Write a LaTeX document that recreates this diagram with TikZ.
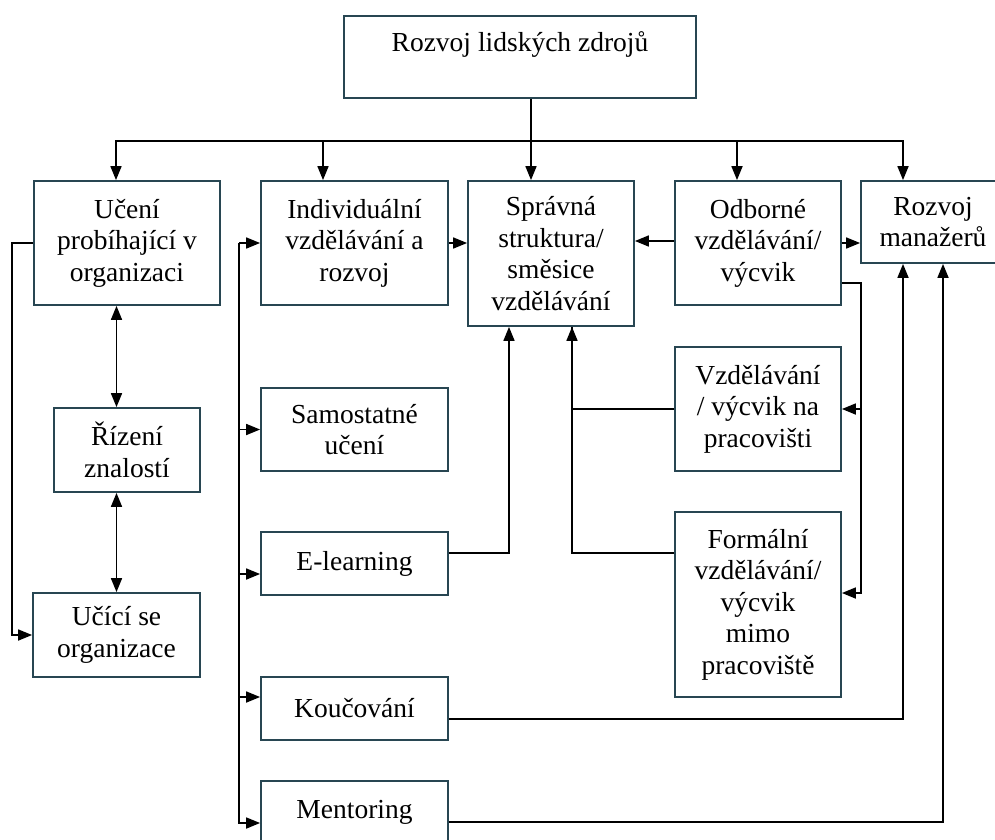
\documentclass[tikz,border=0pt]{standalone}
\usepackage{fontspec}
\setmainfont{Liberation Serif}
\usetikzlibrary{arrows.meta}
\definecolor{ramec}{RGB}{40,70,82}

\begin{document}
\begin{tikzpicture}[x=1pt,y=-1pt]
 \tikzstyle{blok}=[draw=ramec,line width=1.8pt,align=center,inner sep=0pt,
 font=\fontsize{27.5}{31.5}\selectfont]
 \tikzstyle{spoj}=[line width=1.7pt,>={Triangle[length=14pt,width=11pt]}]
\useasboundingbox (0,0) rectangle (995,839);
\clip (0,0) rectangle (995,839);
\node[blok,minimum width=352pt,minimum height=82pt] (rlz) at (520,57) {Rozvoj lidských zdrojů\\\mbox{}};
\node[blok,minimum width=186pt,minimum height=124pt] (uco) at (127,243) {Učení\\probíhající v\\organizaci};
\node[blok,minimum width=187pt,minimum height=124pt] (ivr) at (354.5,243) {Individuální\\vzdělávání a\\rozvoj};
\node[blok,minimum width=166pt,minimum height=145pt] (sss) at (551,253.5) {Správná\\struktura/\\směsice\\vzdělávání};
\node[blok,minimum width=166pt,minimum height=124pt] (ovv) at (758,243) {Odborné\\vzdělávání/\\výcvik};
\node[blok,minimum width=144pt,minimum height=82pt] (rm) at (933,222) {Rozvoj\\manažerů};
\node[blok,minimum width=146pt,minimum height=84pt] (rz) at (127,450) {Řízení\\znalostí};
\node[blok,minimum width=167pt,minimum height=84pt] (uso) at (116.5,635) {Učící se\\organizace};
\node[blok,minimum width=187pt,minimum height=83pt] (su) at (354.5,429.5) {Samostatné\\učení};
\node[blok,minimum width=187pt,minimum height=63pt] (el) at (354.5,563.5) {E-learning};
\node[blok,minimum width=187pt,minimum height=63pt] (kou) at (354.5,708.5) {Koučování};
\node[blok,minimum width=187pt,minimum height=63pt] (men) at (354.5,812.5) {Mentoring};
\node[blok,minimum width=166pt,minimum height=124pt] (vvp) at (758,409) {Vzdělávání\\/ výcvik na\\pracovišti};
\node[blok,minimum width=166pt,minimum height=185pt] (fvm) at (758,604.5) {Formální\\vzdělávání/\\výcvik\\mimo\\pracoviště};
% rozvod shora
\draw[spoj] ([xshift=11pt]rlz.south) -- ++(0,42) coordinate (bus);
\draw[spoj,->] (bus) -| ([xshift=-11pt]uco.north);
\draw[spoj,->] (bus) -| ([xshift=-31.5pt]ivr.north);
\draw[spoj,->] (bus) -- ([xshift=-20pt]sss.north);
\draw[spoj,->] (bus) -| ([xshift=-21pt]ovv.north);
\draw[spoj,->] (bus) -| ([xshift=-30pt]rm.north);
\draw[spoj,->] (ivr.east) -- (ivr.east -| sss.west);
\draw[spoj,->] ([yshift=2pt]ovv.west) -- ([yshift=2pt]ovv.west -| sss.east);
\draw[spoj,->] (ovv.east) -- (ovv.east -| rm.west);
% levy sloupec
\draw[spoj,->] (uco.west) -- ++(-21,0) |- (uso.west);
\draw[spoj,<->] (uso.north |- uco.south) -- (uso.north |- rz.north);
\draw[spoj,<->] (uso.north |- rz.south) -- (uso.north);
% kmen
\draw[spoj,->] (ivr.west) ++(-21,0) coordinate (kmen) -- (ivr.west);
\draw[spoj,->] (kmen) |- (su.west);
\draw[spoj,->] (kmen) |- ([yshift=-10.5pt]el.west);
\draw[spoj,->] (kmen) |- ([yshift=11.5pt]kou.west);
\draw[spoj,->] (kmen) |- ([yshift=-10.5pt]men.west);
% pravy rozvod
\draw[spoj,->] ([yshift=-40pt]ovv.east) -- ++(19,0) coordinate (pbus) |- ([yshift=11.5pt]fvm.east);
\draw[spoj,->] (pbus |- vvp.east) -- (vvp.east);
\draw[spoj,->] (vvp.west) -| ([xshift=21pt]sss.south);
\draw[spoj] ([yshift=51.5pt]fvm.west) -| ([xshift=21pt]sss.south);
\draw[spoj,->] ([yshift=10.5pt]el.east) -| ([xshift=-42pt]sss.south);
\draw[spoj,->] ([yshift=-10.5pt]kou.east) -| ([xshift=-30pt]rm.south);
\draw[spoj,->] ([yshift=-9.5pt]men.east) -| ([xshift=10pt]rm.south);
\end{tikzpicture}
\end{document}
